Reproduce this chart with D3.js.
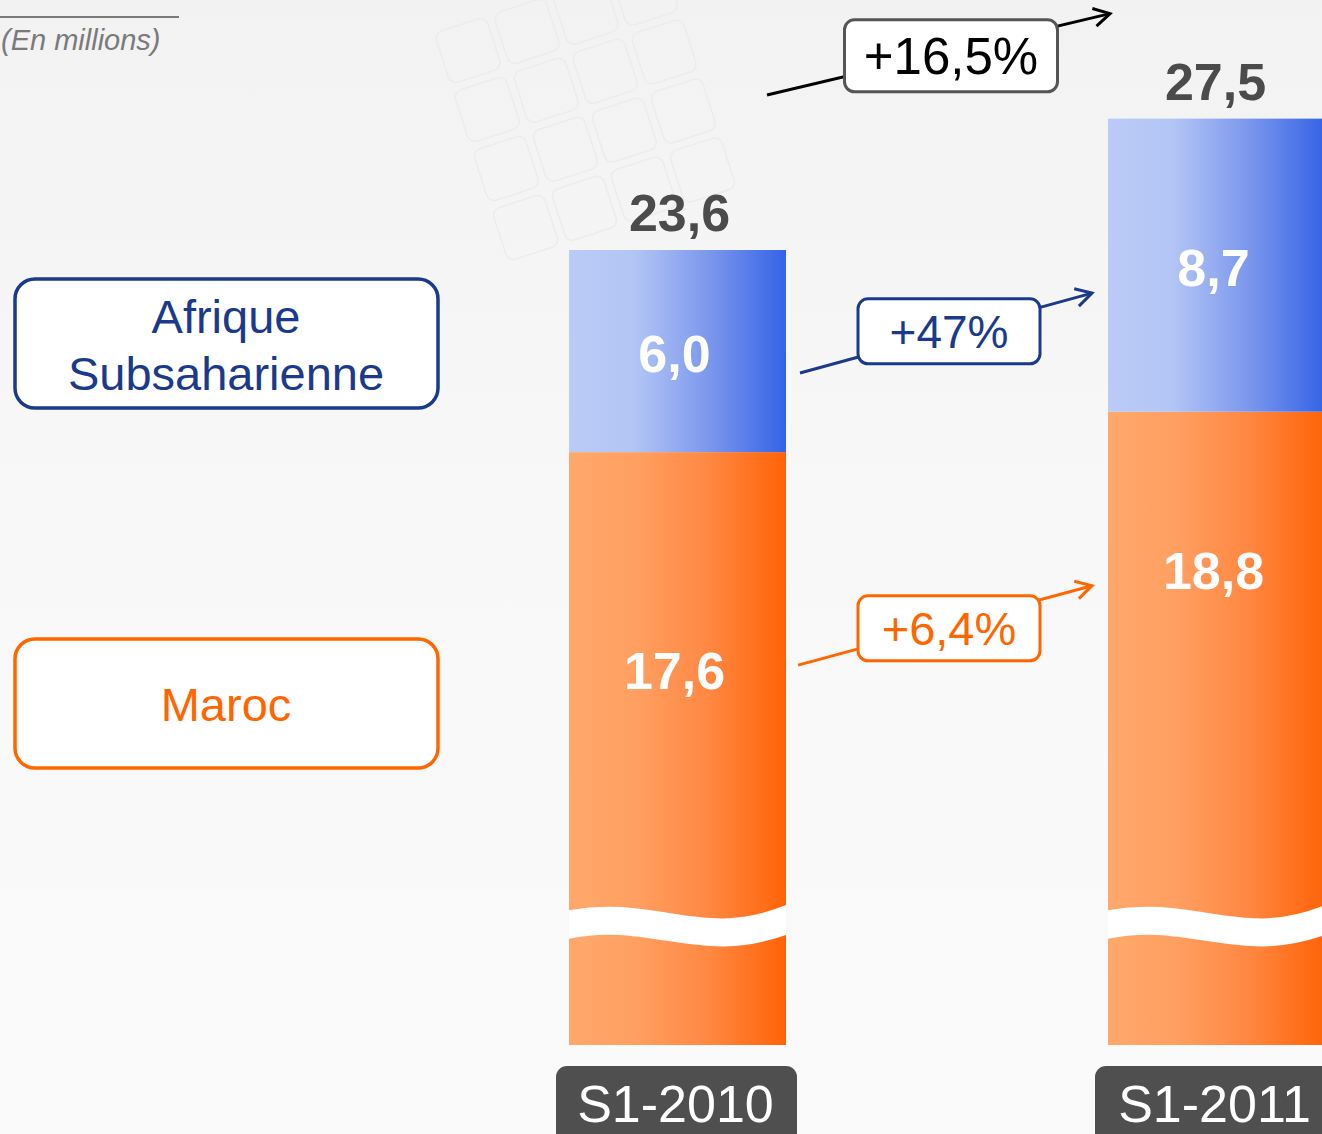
<!DOCTYPE html>
<html>
<head>
<meta charset="utf-8">
<script src="https://cdn.jsdelivr.net/npm/d3@7"></script>
<style>
  html, body { margin: 0; padding: 0; background: #f9f9f9; overflow: hidden; }
  svg { display: block; font-family: "Liberation Sans", Arial, sans-serif; }
</style>
</head>
<body>
<script>

// data
var periods = ["S1-2010", "S1-2011"];
var maroc = [17.6, 18.8];
var afrique = [6.0, 8.7];
var totals = [23.6, 27.5];
var growthLabels = ["+6,4%", "+47%", "+16,5%"];
var seriesNames = ["Afrique Subsaharienne", "Maroc"];
var unitLabel = "(En millions)";

var width = 1322,
    height = 1134,
    barWidth = 217,
    breakAt = 3.6;

var fmt = function(v) { return d3.format(".1f")(v).replace(".", ","); };

var x = d3.scalePoint()
    .domain(periods)
    .range([677.5, 1216.5]);

var y = d3.scaleLinear()
    .domain([0, totals[0]])
    .range([1045, 250]);

var svg = d3.select("body").append("svg")
    .attr("width", width)
    .attr("height", height);

var defs = svg.append("defs");

// soft background
var bg = defs.append("linearGradient").attr("id", "bg")
    .attr("x1", 0).attr("y1", 0).attr("x2", 0).attr("y2", 1);
bg.append("stop").attr("offset", 0).attr("stop-color", "#f2f2f2");
bg.append("stop").attr("offset", 0.45).attr("stop-color", "#f8f8f8");
bg.append("stop").attr("offset", 1).attr("stop-color", "#fafafa");

function grad(id, stops) {
    var g = defs.append("linearGradient").attr("id", id)
        .attr("x1", 0).attr("y1", 0).attr("x2", 1).attr("y2", 0);
    stops.forEach(function(s) {
        g.append("stop").attr("offset", s[0]).attr("stop-color", s[1]);
    });
}
grad("gBlue", [[0, "#bacbf7"], [0.3, "#b3c5f5"], [0.65, "#7b97ed"], [1, "#3563e6"]]);
grad("gOrange", [[0, "#ffa86b"], [0.3, "#ffa062"], [0.65, "#ff8741"], [1, "#ff6308"]]);

svg.append("rect")
    .attr("width", width).attr("height", height)
    .attr("fill", "url(#bg)");

// faint keyboard keys in the background
var keys = svg.append("g").attr("fill", "none").attr("stroke", "#ececec").attr("stroke-width", 1.5)
    .attr("transform", "rotate(-18 620 120)");
d3.range(4).forEach(function(r) {
    d3.range(4).forEach(function(c) {
        keys.append("rect")
            .attr("x", 470 + c * 62).attr("y", -20 + r * 62)
            .attr("width", 54).attr("height", 54).attr("rx", 8);
    });
});

// unit label
svg.append("line")
    .attr("x1", 0).attr("x2", 179).attr("y1", 17).attr("y2", 17)
    .attr("stroke", "#7a7a7a").attr("stroke-width", 2);
svg.append("text")
    .attr("x", 1).attr("y", 50)
    .attr("font-size", 29).attr("font-style", "italic")
    .attr("fill", "#7a7a7a")
    .text(unitLabel);

// legend boxes
var legend = [
    { name: seriesNames[0], color: "#1b3a8c", y: 279, lines: ["Afrique", "Subsaharienne"] },
    { name: seriesNames[1], color: "#ff6600", y: 639, lines: ["Maroc"] }
];
legend.forEach(function(d) {
    svg.append("rect")
        .attr("x", 15).attr("y", d.y)
        .attr("width", 423).attr("height", 129)
        .attr("rx", 20)
        .attr("fill", "#ffffff")
        .attr("stroke", d.color).attr("stroke-width", 3.5);
    var t = svg.append("text")
        .attr("text-anchor", "middle")
        .attr("font-size", 47)
        .attr("fill", d.color);
    d.lines.forEach(function(l, i) {
        var n = d.lines.length;
        t.append("tspan")
            .attr("x", 226)
            .attr("y", d.y + 82 + (i - (n - 1) / 2) * 57)
            .text(l);
    });
});

// bars
var stack = periods.map(function(p, i) {
    return { period: p, maroc: maroc[i], afrique: afrique[i], total: totals[i] };
});

var bars = svg.selectAll(".bar")
    .data(stack)
    .enter().append("g")
        .attr("class", "bar");

bars.append("rect")
    .attr("x", function(d) { return x(d.period) - barWidth / 2; })
    .attr("y", function(d) { return y(d.maroc); })
    .attr("width", barWidth)
    .attr("height", function(d) { return y(0) - y(d.maroc); })
    .attr("fill", "url(#gOrange)");

bars.append("rect")
    .attr("x", function(d) { return x(d.period) - barWidth / 2; })
    .attr("y", function(d) { return y(d.maroc + d.afrique); })
    .attr("width", barWidth)
    .attr("height", function(d) { return y(d.maroc) - y(d.maroc + d.afrique); })
    .attr("fill", "url(#gBlue)");

// axis break wave
bars.each(function(d, i) {
    var x0 = x(d.period) - barWidth / 2, w = barWidth, yc = y(breakAt);
    defs.append("clipPath").attr("id", "clip" + i)
        .append("rect")
        .attr("x", x0).attr("y", yc - 40)
        .attr("width", w).attr("height", 80);
    d3.select(this).append("path")
        .attr("clip-path", "url(#clip" + i + ")")
        .attr("d", "M" + (x0 - 6) + "," + (yc + 2) +
            " C" + (x0 + 0.4 * w) + "," + (yc - 18) +
            " " + (x0 + 0.6 * w) + "," + (yc + 32) +
            " " + (x0 + w + 6) + "," + (yc - 6))
        .attr("fill", "none")
        .attr("stroke", "#ffffff")
        .attr("stroke-width", 28);
});

// value labels
var marocLabelDy = [219, 159];
var totalDx = [2, -1];

bars.append("text")
    .attr("x", function(d, i) { return x(d.period) + totalDx[i]; })
    .attr("y", function(d) { return y(d.total) - 19; })
    .attr("text-anchor", "middle")
    .attr("font-size", 52).attr("font-weight", "bold")
    .attr("fill", "#4b4b4b")
    .text(function(d) { return fmt(d.total); });

bars.append("text")
    .attr("x", function(d) { return x(d.period) - 3; })
    .attr("y", function(d) { return (y(d.maroc) + y(d.maroc + d.afrique)) / 2 + 21; })
    .attr("text-anchor", "middle")
    .attr("font-size", 52).attr("font-weight", "bold")
    .attr("fill", "#ffffff")
    .text(function(d) { return fmt(d.afrique); });

bars.append("text")
    .attr("x", function(d) { return x(d.period) - 3; })
    .attr("y", function(d, i) { return y(d.maroc) + marocLabelDy[i] + 18; })
    .attr("text-anchor", "middle")
    .attr("font-size", 52).attr("font-weight", "bold")
    .attr("fill", "#ffffff")
    .text(function(d) { return fmt(d.maroc); });

// period labels
bars.append("rect")
    .attr("x", function(d) { return x(d.period) - barWidth / 2 - 13; })
    .attr("y", 1066)
    .attr("width", 241).attr("height", 90)
    .attr("rx", 11)
    .attr("fill", "#4f4f4f");

bars.append("text")
    .attr("x", function(d) { return x(d.period) - 2; })
    .attr("y", 1122)
    .attr("text-anchor", "middle")
    .attr("font-size", 52)
    .attr("fill", "#ffffff")
    .text(function(d) { return d.period; });

// growth arrows
var x1 = x(periods[0]) + barWidth / 2, x2 = x(periods[1]) - barWidth / 2;
var arrows = [
    { label: growthLabels[0], color: "#ff6600", box: "#ff6600", fs: 47, bw: 182, bh: 65, boxDy: 4,
      y1: y(maroc[0]) + marocLabelDy[0] - 6, y2: y(maroc[1]) + marocLabelDy[1] + 15, dx1: 12 },
    { label: growthLabels[1], color: "#1b3a8c", box: "#1b3a8c", fs: 46, bw: 182, bh: 65, boxDy: -1,
      y1: (y(maroc[0]) + y(totals[0])) / 2 + 22, y2: (y(maroc[1]) + y(totals[1])) / 2 + 28, dx1: 14 },
    { label: growthLabels[2], color: "#000000", box: "#555555", fs: 51, bw: 213, bh: 72, boxDy: 4.5,
      y1: y(totals[0]) - 155, y2: y(totals[1]) - 105, dx1: -19 }
];

arrows.forEach(function(a, i) {
    var m = defs.append("marker")
        .attr("id", "arr" + i)
        .attr("viewBox", "-20 -12 24 24")
        .attr("markerWidth", 24).attr("markerHeight", 24)
        .attr("markerUnits", "userSpaceOnUse")
        .attr("refX", 0).attr("refY", 0)
        .attr("orient", "auto");
    m.append("path")
        .attr("d", "M-16,-9L0,0L-16,9")
        .attr("fill", "none")
        .attr("stroke", a.color)
        .attr("stroke-width", 3);

    var sx = x1 + a.dx1, ex = x2 - 16 + (i == 2 ? 18 : 0);
    svg.append("line")
        .attr("x1", sx).attr("y1", a.y1)
        .attr("x2", ex).attr("y2", a.y2)
        .attr("stroke", a.color).attr("stroke-width", 3)
        .attr("marker-end", "url(#arr" + i + ")");

    var cx = (i == 2 ? 951 : 949);
    var cy = a.y1 + (a.y2 - a.y1) * (cx - sx) / (ex - sx) + a.boxDy;
    svg.append("rect")
        .attr("x", cx - a.bw / 2).attr("y", cy - a.bh / 2)
        .attr("width", a.bw).attr("height", a.bh)
        .attr("rx", 10)
        .attr("fill", "#ffffff")
        .attr("stroke", a.box).attr("stroke-width", 3);
    svg.append("text")
        .attr("x", cx).attr("y", cy + a.fs * 0.36)
        .attr("text-anchor", "middle")
        .attr("font-size", a.fs)
        .attr("fill", a.color)
        .text(a.label);
});

</script>
</body>
</html>
